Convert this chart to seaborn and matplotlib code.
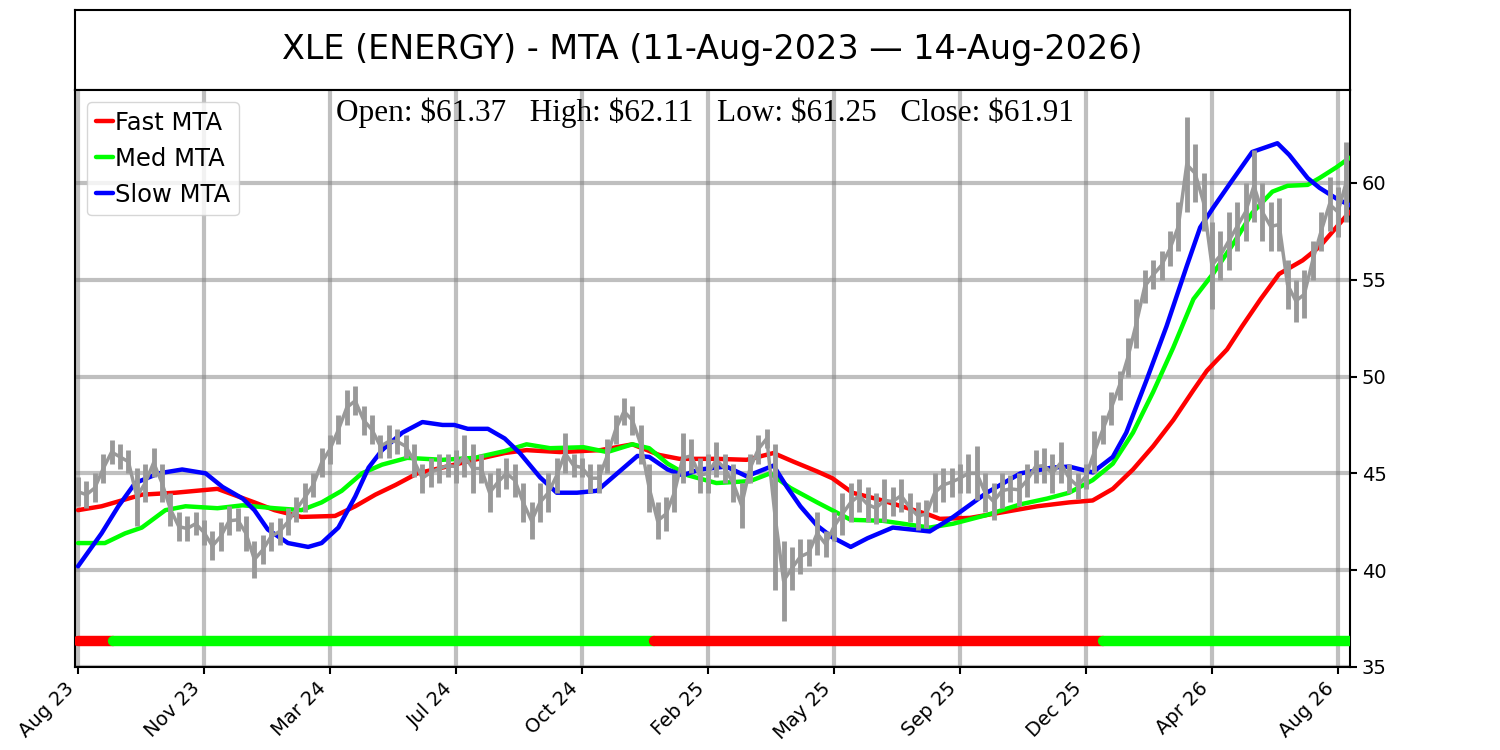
import numpy as np
import pandas as pd
import seaborn as sns
import matplotlib.pyplot as plt

sns.set_theme(style="white")
plt.rcParams['font.family'] = ['DejaVu Sans']
plt.rcParams['text.color'] = 'black'
plt.rcParams['xtick.color'] = 'black'
plt.rcParams['ytick.color'] = 'black'
plt.rcParams['axes.edgecolor'] = 'black'

title = "XLE (ENERGY) - MTA (11-Aug-2023 \u2014 14-Aug-2026)"
info = "Open: $61.37   High: $62.11   Low: $61.25   Close: $61.91"

tick_labels = ["Aug 23", "Nov 23", "Mar 24", "Jul 24", "Oct 24", "Feb 25",
               "May 25", "Sep 25", "Dec 25", "Apr 26", "Aug 26"]

# weekly price range (one bar every 5 trading days)
price_low = [43.3, 43.2, 43.5, 44.5, 45.5, 45.2, 45.0, 42.3, 43.5, 44.8,
             43.5, 42.3, 41.5, 41.5, 41.8, 41.3, 40.5, 41.0, 41.8, 42.0,
             41.0, 39.6, 40.3, 41.0, 41.3, 41.8, 42.5, 43.0, 43.8, 44.8,
             45.5, 46.5, 47.5, 48.0, 47.0, 46.5, 45.8, 45.8, 46.0, 45.8,
             44.8, 44.0, 44.3, 44.5, 44.8, 44.5, 44.8, 44.0, 44.5, 43.0,
             43.8, 44.2, 43.8, 42.5, 41.6, 42.5, 43.0, 44.0, 45.0, 44.8,
             44.8, 44.0, 44.0, 45.0, 46.5, 47.5, 47.0, 45.5, 43.0, 41.6,
             42.0, 43.0, 44.5, 45.0, 44.0, 44.0, 44.8, 44.5, 43.5, 42.2,
             44.5, 45.5, 46.3, 39.0, 37.4, 39.0, 39.8, 40.2, 40.8, 40.7,
             41.5, 41.8, 42.5, 43.0, 42.5, 42.4, 42.5, 42.8, 43.0, 42.5,
             42.1, 42.2, 43.0, 43.5, 43.8, 44.0, 44.0, 43.6, 43.0, 42.6,
             43.2, 43.5, 43.3, 43.8, 44.5, 44.5, 44.0, 44.5, 44.0, 43.7,
             44.2, 45.0, 46.5, 47.5, 48.8, 50.0, 51.5, 53.8, 54.5, 55.0,
             55.7, 56.5, 58.5, 59.0, 57.5, 53.5, 55.0, 55.5, 56.5, 57.0,
             58.0, 57.0, 56.5, 56.5, 53.5, 52.8, 53.0, 55.0, 56.5, 57.5,
             57.2, 58.0]
price_high = [44.8, 44.6, 45.0, 46.0, 46.7, 46.5, 46.2, 45.3, 45.5, 46.3,
              45.5, 44.0, 43.0, 42.8, 43.0, 42.6, 42.0, 42.5, 43.3, 43.2,
              42.8, 41.5, 41.8, 42.5, 42.7, 43.2, 43.8, 44.5, 45.0, 46.3,
              47.0, 48.0, 49.3, 49.5, 48.5, 48.0, 47.0, 47.5, 47.3, 47.0,
              46.5, 45.5, 45.8, 46.0, 46.0, 46.2, 47.0, 46.5, 46.0, 45.0,
              45.3, 45.8, 45.5, 44.5, 43.5, 44.5, 45.0, 45.8, 47.1, 46.0,
              45.8, 45.5, 45.5, 46.8, 48.0, 48.9, 48.5, 47.5, 45.5, 43.5,
              43.8, 45.0, 47.1, 46.8, 45.8, 46.0, 46.6, 46.0, 45.5, 44.5,
              46.0, 47.0, 47.3, 46.5, 41.5, 41.2, 41.6, 41.6, 43.0, 42.0,
              43.0, 44.0, 44.5, 44.7, 44.3, 44.0, 44.7, 44.3, 44.7, 44.0,
              43.5, 43.6, 45.0, 45.3, 45.3, 45.5, 46.0, 46.4, 45.0, 44.5,
              45.0, 44.9, 45.0, 45.5, 46.2, 46.3, 46.0, 46.6, 45.5, 45.0,
              45.5, 47.2, 48.0, 49.2, 50.3, 52.0, 54.0, 55.5, 56.0, 56.5,
              57.5, 59.0, 63.4, 62.0, 60.5, 58.0, 57.5, 58.5, 59.0, 60.0,
              61.7, 60.0, 59.0, 59.2, 56.0, 55.0, 55.5, 57.0, 58.5, 60.3,
              59.8, 62.1]

# moving averages (bar index, value)
fast_idx = [0, 14, 38, 58, 83, 105, 117, 133, 153, 165, 177, 189, 202, 217,
            236, 254, 267, 287, 311, 330, 346, 358, 380, 398, 414, 426, 440,
            449, 461, 479, 507, 513, 531, 551, 571, 590, 604, 616, 628, 640,
            652, 664, 672, 684, 693, 704, 715, 729, 739, 749, 757]
fast_val = [43.1, 43.3, 43.9, 44.0, 44.2, 43.5, 43.1, 42.75, 42.8, 43.3,
            43.9, 44.4, 45.0, 45.3, 45.7, 46.05, 46.2, 46.1, 46.2, 46.5,
            45.95, 45.75, 45.75, 45.7, 46.05, 45.6, 45.1, 44.75, 44.0, 43.6,
            42.85, 42.65, 42.7, 43.0, 43.3, 43.5, 43.6, 44.2, 45.2, 46.4,
            47.75, 49.3, 50.3, 51.4, 52.6, 54.0, 55.3, 56.0, 56.7, 57.7, 58.5]

med_idx = [0, 16, 28, 38, 52, 64, 83, 98, 117, 133, 145, 157, 169, 181,
           196, 217, 236, 254, 267, 281, 301, 315, 330, 340, 351, 363, 380,
           400, 412, 424, 440, 460, 479, 507, 521, 541, 561, 577, 590, 604,
           616, 628, 640, 652, 664, 676, 688, 699, 711, 720, 732, 739, 749,
           757]
med_val = [41.4, 41.4, 41.9, 42.2, 43.1, 43.3, 43.2, 43.35, 43.2, 43.1,
           43.5, 44.1, 45.0, 45.45, 45.8, 45.7, 45.8, 46.15, 46.5, 46.3,
           46.35, 46.1, 46.5, 46.3, 45.5, 44.9, 44.5, 44.6, 45.0, 44.25,
           43.5, 42.6, 42.55, 42.2, 42.4, 42.85, 43.4, 43.7, 44.0, 44.65,
           45.5, 47.1, 49.2, 51.5, 54.0, 55.35, 56.9, 58.45, 59.55, 59.85,
           59.9, 60.25, 60.8, 61.3]

slow_idx = [0, 14, 24, 34, 48, 62, 76, 86, 98, 105, 113, 125, 137, 145,
            155, 165, 173, 181, 193, 205, 217, 224, 232, 244, 254, 263, 275,
            285, 297, 309, 321, 333, 340, 351, 360, 370, 386, 398, 414, 422,
            430, 440, 449, 460, 470, 485, 507, 521, 541, 561, 580, 590, 604,
            616, 624, 636, 648, 660, 668, 676, 686, 699, 714, 721, 732, 739,
            749, 757]
slow_val = [40.2, 41.9, 43.3, 44.5, 45.0, 45.2, 45.0, 44.3, 43.7, 43.1,
            42.1, 41.4, 41.2, 41.4, 42.2, 43.8, 45.3, 46.2, 47.1, 47.65,
            47.5, 47.5, 47.3, 47.3, 46.8, 46.05, 44.8, 44.0, 44.0, 44.1,
            45.0, 45.9, 45.85, 45.2, 44.9, 45.2, 45.35, 44.85, 45.4, 44.3,
            43.3, 42.3, 41.7, 41.2, 41.65, 42.2, 42.0, 42.75, 44.0, 45.0,
            45.3, 45.35, 45.05, 45.85, 47.1, 49.8, 52.6, 55.7, 57.7, 58.75,
            60.0, 61.6, 62.05, 61.45, 60.25, 59.75, 59.2, 58.85]

# trend signal segments
signal_start = [0, 21, 343, 610]
signal_end = [21, 343, 610, 757]
signal_color = ["#ff0000", "#00ff00", "#ff0000", "#00ff00"]

fig = plt.figure(figsize=(15, 7.5), dpi=100)

ax_t = fig.add_axes([0.05, 0.88, 0.85, 0.10667])
ax_t.set_xticks([])
ax_t.set_yticks([])
for s in ax_t.spines.values():
    s.set_color("black")
    s.set_linewidth(1.5)
ax_t.text(0.5, 0.5, title, ha="center", va="center", fontsize=24)

ax = fig.add_axes([0.05, 0.1107, 0.85, 0.7693])
ax.grid(True, color="gray", alpha=0.5, linewidth=3)
ax.set_axisbelow(True)

sns.lineplot(x=fast_idx, y=fast_val, color="#ff0000", linewidth=3.2,
             label="Fast MTA", ax=ax, zorder=3)
sns.lineplot(x=med_idx, y=med_val, color="#00ff00", linewidth=3.2,
             label="Med MTA", ax=ax, zorder=3)
sns.lineplot(x=slow_idx, y=slow_val, color="#0000ff", linewidth=3.2,
             label="Slow MTA", ax=ax, zorder=3)

wk = np.arange(len(price_low)) * 5
lo = np.array(price_low)
hi = np.array(price_high)
ax.vlines(wk, lo, hi, color="#999999", linewidth=3.5, zorder=3.5)
ax.plot(wk, (lo + hi) / 2, color="#999999", linewidth=2.5, zorder=3.5)

for s, e, c in zip(signal_start, signal_end, signal_color):
    ax.plot([s, e], [36.35, 36.35], color=c, linewidth=7.5,
            solid_capstyle="round", zorder=4)

ax.text(0.494, 0.946, info, transform=ax.transAxes, ha="center",
        va="baseline", fontsize=22.5, family="Liberation Serif",
        parse_math=False)

ax.legend(loc="upper left", fontsize=17.5, handlelength=0.7,
          handletextpad=0.1, borderpad=0.35, labelspacing=0.5,
          framealpha=0.8)

ax.set_xlim(-1.8, 757.2)
ax.set_ylim(35, 64.8)
ax.set_xticks(range(0, 751, 75))
ax.set_xticklabels(tick_labels, rotation=45, ha="right", fontsize=14)
ax.set_yticks([35, 40, 45, 50, 55, 60])
ax.yaxis.tick_right()
ax.tick_params(axis="y", labelsize=14, right=True, length=5, width=1.5)
ax.tick_params(axis="x", bottom=True, length=5, width=1.5)
ax.set_xlabel("")
ax.set_ylabel("")
for s in ax.spines.values():
    s.set_linewidth(1.5)

fig.savefig("out.png", dpi=100)
